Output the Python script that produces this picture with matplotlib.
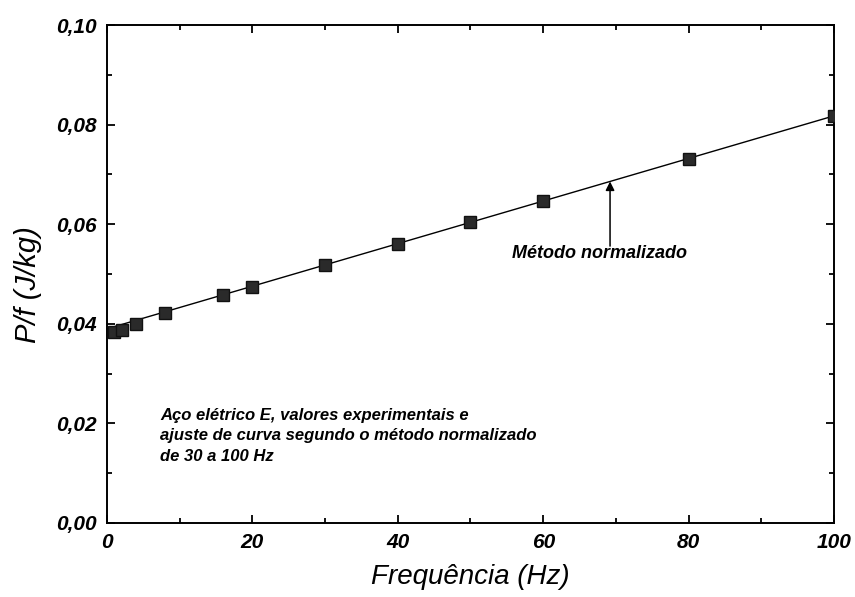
import numpy as np
import matplotlib.pyplot as plt
from matplotlib.ticker import MultipleLocator, FuncFormatter

# Valores experimentais: frequência (Hz) e perda por ciclo P/f (J/kg)
freq = [1, 2, 4, 8, 16, 20, 30, 40, 50, 60, 80, 100]
perda = [0.0384, 0.0388, 0.0400, 0.0421, 0.0457, 0.0474,
         0.0518, 0.0561, 0.0604, 0.0647, 0.0731, 0.0818]

# Ajuste linear segundo o método normalizado (30 a 100 Hz)
freq = np.array(freq)
perda = np.array(perda)
sel = (freq >= 30) & (freq <= 100)
coef = np.polyfit(freq[sel], perda[sel], 1)
f_fit = np.linspace(0, 100, 200)
p_fit = np.polyval(coef, f_fit)

plt.rcParams['font.family'] = ['Liberation Sans', 'DejaVu Sans']

fig = plt.figure(figsize=(8.55, 5.97), dpi=100)
ax = fig.add_axes([0.1251, 0.124, 0.8503, 0.8341])

ax.plot(f_fit, p_fit, color='black', lw=1.0, zorder=2)
ax.plot(freq, perda, linestyle='none', marker='s', markersize=8,
        color='#2a2a2a', markeredgecolor='#111111', zorder=3)

ax.set_xlim(0, 100)
ax.set_ylim(0, 0.10)

ax.xaxis.set_major_locator(MultipleLocator(20))
ax.xaxis.set_minor_locator(MultipleLocator(10))
ax.yaxis.set_major_locator(MultipleLocator(0.02))
ax.yaxis.set_minor_locator(MultipleLocator(0.01))
ax.yaxis.set_major_formatter(FuncFormatter(lambda v, p: f'{v:.2f}'.replace('.', ',')))

ax.tick_params(which='both', direction='in', top=True, right=True, width=1.3)
ax.tick_params(which='major', length=6, labelsize=15)
ax.tick_params(axis='x', which='major', pad=7)
ax.tick_params(axis='y', which='major', pad=7)
ax.tick_params(which='minor', length=3.5)
for lab in ax.get_xticklabels() + ax.get_yticklabels():
    lab.set_fontstyle('italic')
    lab.set_fontweight('bold')
for s in ax.spines.values():
    s.set_linewidth(1.4)

ax.set_xlabel('Frequência (Hz)', fontsize=20, fontstyle='italic', va='center')
ax.xaxis.set_label_coords(0.5, -0.108)
ax.set_ylabel('P/f (J/kg)', fontsize=21, fontstyle='italic', va='center', ha='center')
ax.yaxis.set_label_coords(-0.108, 0.478)

# Seta indicando a reta do ajuste
f_seta = 69.2
ax.annotate('', xy=(f_seta, np.polyval(coef, f_seta)),
            xytext=(f_seta, 0.0556),
            arrowprops=dict(arrowstyle='-|>', color='black', lw=1.1,
                            mutation_scale=13, shrinkA=0, shrinkB=0))
ax.text(67.8, 0.0542, 'Método normalizado', fontsize=13, fontstyle='italic',
        fontweight='bold', ha='center', va='center')

ax.text(7.3, 0.0175,
        'Aço elétrico E, valores experimentais e\n'
        'ajuste de curva segundo o método normalizado\n'
        'de 30 a 100 Hz',
        fontsize=12, fontstyle='italic', fontweight='bold',
        ha='left', va='center', linespacing=1.45)

fig.savefig('out.png', dpi=100)
